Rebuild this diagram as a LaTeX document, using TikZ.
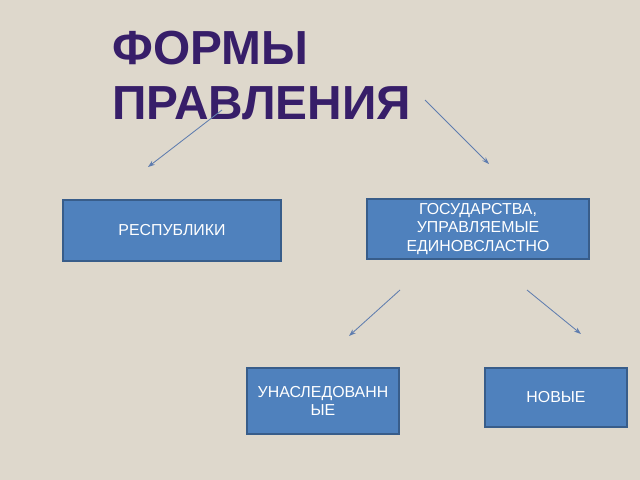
\documentclass[tikz,border=0pt]{standalone}
\usepackage{fontspec}
\setmainfont{Liberation Sans}
\usetikzlibrary{arrows.meta}

\definecolor{fond}{RGB}{222,216,204}
\definecolor{titre}{RGB}{55,30,105}
\definecolor{boite}{RGB}{79,129,189}
\definecolor{bord}{RGB}{56,93,138}
\definecolor{fleche}{RGB}{95,125,175}

\tikzset{
  boite/.style={draw=bord, line width=1pt, fill=boite, text=white, font=\fontsize{11.3}{13}\selectfont, align=center, inner sep=2pt},
  fleche/.style={draw=fleche, line width=0.6pt, -{Stealth[length=5pt,width=3.5pt]}}
}

\begin{document}
\begin{tikzpicture}[x=0.025cm,y=-0.025cm]

% fond de la page
\useasboundingbox (0,0) rectangle (640,480);
\fill[fond] (0,0) rectangle (640,480);

% titre
\node[anchor=north west, text=titre, font=\fontsize{34}{39}\selectfont\bfseries, align=left, inner sep=0pt] (titre) at (112,31) {ФОРМЫ\\ПРАВЛЕНИЯ};

% les boites
\node[boite, minimum width=5.45cm, minimum height=1.525cm] (republiques) at (172,230.5) {РЕСПУБЛИКИ};
\node[boite, minimum width=5.55cm, minimum height=1.5cm] (monarchies) at (478,229) {ГОСУДАРСТВА,\\УПРАВЛЯЕМЫЕ\\ЕДИНОВСЛАСТНО};
\node[boite, minimum width=3.8cm, minimum height=1.65cm] (herites) at (323,401) {УНАСЛЕДОВАНН\\ЫЕ};
\node[boite, minimum width=3.55cm, minimum height=1.475cm] (nouvelles) at (556,397.5) {НОВЫЕ};

% extrémités des flèches
\coordinate (a1) at (222,110);
\coordinate (b1) at (148,167);
\coordinate (a2) at (425,100);
\coordinate (b2) at (489,164);
\coordinate (a3) at (400,290);
\coordinate (b3) at (349,336);
\coordinate (a4) at (527,290);
\coordinate (b4) at (581,334);

% flèches
\draw[fleche] (a1) -- (b1);
\draw[fleche] (a2) -- (b2);
\draw[fleche] (a3) -- (b3);
\draw[fleche] (a4) -- (b4);

\end{tikzpicture}
\end{document}
